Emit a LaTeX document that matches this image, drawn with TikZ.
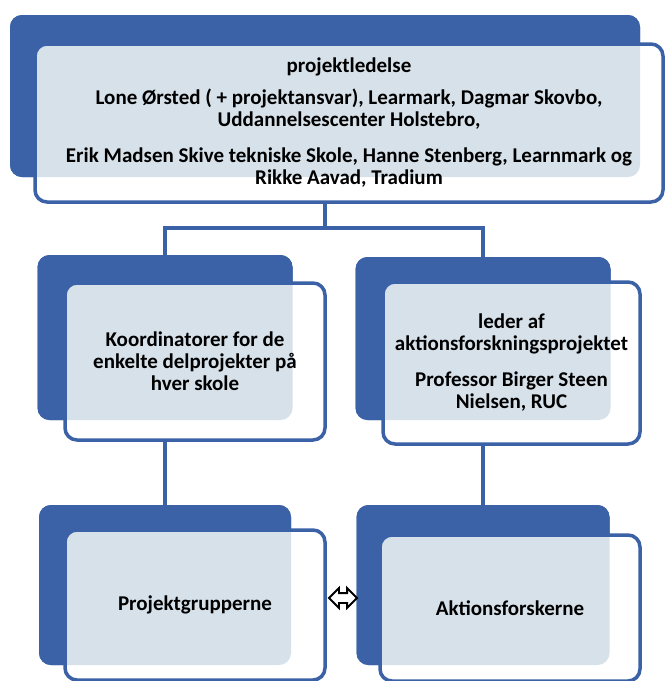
\documentclass[tikz,border=0pt]{standalone}
\usepackage{fontspec}
\setmainfont{Carlito}
\usetikzlibrary{shapes.arrows}
\definecolor{dkblue}{RGB}{59,98,166}
\definecolor{ltblue}{RGB}{214,225,234}
\tikzset{
  backbox/.style={fill=dkblue, rounded corners=12pt, inner sep=0pt, outer sep=0pt},
  frontbox/.style={fill=white, draw=dkblue, line width=3.5pt, rounded corners=12pt,
    inner sep=0pt, outer sep=0pt, align=center,
    font=\bfseries\fontsize{21}{22}\selectfont,
    path picture={\fill[ltblue, rounded corners=12pt] (#1.south west) rectangle (#1.north east);}},
  conn/.style={draw=dkblue, line width=4pt},
  dblarrow/.style={double arrow, draw=black, fill=white, line width=1.8pt,
    minimum height=28pt, double arrow head extend=5pt,
    inner xsep=0pt, inner ysep=4pt}
}
\begin{document}
\begin{tikzpicture}[x=1pt,y=-1pt]
\useasboundingbox (0,0) rectangle (665,681);
\fill[white] (0,0) rectangle (665,681);
% back boxes
\node[backbox, minimum width=630pt, minimum height=162pt] (tb) at (325,96) {};
\node[backbox, minimum width=255pt, minimum height=165pt] (mlb) at (165,337.5) {};
\node[backbox, minimum width=255pt, minimum height=163pt] (mrb) at (483,338.5) {};
\node[backbox, minimum width=252pt, minimum height=160pt] (blb) at (165,585) {};
\node[backbox, minimum width=253pt, minimum height=160pt] (brb) at (483,585) {};
% connectors
\coordinate (j) at (325,228);
\draw[conn] (tb.south) -- (j);
\draw[conn] (mlb.north) |- (j) -| (mrb.north);
\draw[conn] (mlb.south) -- (blb.north);
\draw[conn] (mrb.south) -- (brb.north);
% redraw back boxes over connector ends
\fill[dkblue, rounded corners=12pt] (tb.south west) rectangle (tb.north east);
\fill[dkblue, rounded corners=12pt] (mlb.south west) rectangle (mlb.north east);
\fill[dkblue, rounded corners=12pt] (mrb.south west) rectangle (mrb.north east);
\fill[dkblue, rounded corners=12pt] (blb.south west) rectangle (blb.north east);
\fill[dkblue, rounded corners=12pt] (brb.south west) rectangle (brb.north east);
% front boxes
\node[frontbox=tb, minimum width=628pt, minimum height=158pt] (tf) at (349,123)
  {projektledelse\\[10pt]
   Lone Ørsted ( + projektansvar), Learmark, Dagmar Skovbo,\\
   Uddannelsescenter Holstebro,\\[14pt]
   Erik Madsen Skive tekniske Skole, Hanne Stenberg, Learnmark og\\
   Rikke Aavad, Tradium};
\node[frontbox=mlb, minimum width=260pt, minimum height=157pt] (mlf) at (195,361.5)
  {Koordinatorer for de\\enkelte delprojekter på\\hver skole};
\node[frontbox=mrb, minimum width=257pt, minimum height=162pt] (mrf) at (511.5,363)
  {leder af\\aktionsforskningsprojektet\\[14pt]Professor Birger Steen\\Nielsen, RUC};
\node[frontbox=blb, minimum width=260pt, minimum height=150pt] (blf) at (195,605)
  {Projektgrupperne};
\node[frontbox=brb, minimum width=260pt, minimum height=146pt] (brf) at (510,608)
  {Aktionsforskerne};
% double arrow
\node[dblarrow] (da) at (343,598) {};
\end{tikzpicture}
\end{document}
